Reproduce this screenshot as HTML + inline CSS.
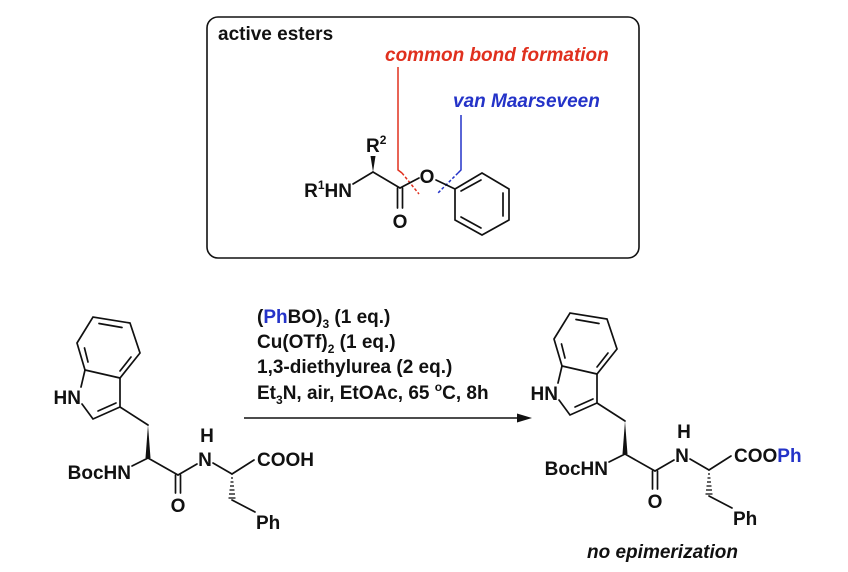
<!DOCTYPE html>
<html><head><meta charset="utf-8"><style>
html,body{margin:0;padding:0;background:#fff;}
svg{display:block;}
text{font-family:"Liberation Sans",Arial,sans-serif;font-weight:bold;font-size:19px;fill:#111;}
.b{stroke:#111;stroke-width:1.7;fill:none;stroke-linecap:round;}
</style></head><body>
<svg width="848" height="572" viewBox="0 0 848 572" xmlns="http://www.w3.org/2000/svg">
<defs>
<g id="mol">
  <polyline class="b" points="77,343 93,317 130,323 140,353 120,378 85,370 77,343"/>
  <line class="b" x1="99" y1="323.5" x2="122" y2="327.5"/>
  <line class="b" x1="131" y1="357" x2="120" y2="371"/>
  <line class="b" x1="84.5" y1="348" x2="88" y2="362"/>
  <polyline class="b" points="85,370 81,387"/>
  <polyline class="b" points="82,404 93,419 120,407 120,378"/>
  <line class="b" x1="98" y1="411" x2="116" y2="403"/>
  <line class="b" x1="120" y1="407" x2="148" y2="425"/>
  <polygon points="148,425 145.5,458 150.5,458" fill="#111"/>
  <line class="b" x1="132" y1="466" x2="148" y2="458"/>
  <line class="b" x1="148" y1="458" x2="178" y2="475"/>
  <line class="b" x1="175.5" y1="475" x2="175.5" y2="493"/>
  <line class="b" x1="180.5" y1="475" x2="180.5" y2="493"/>
  <line class="b" x1="178" y1="475" x2="197" y2="464"/>
  <line class="b" x1="213" y1="463" x2="232" y2="474"/>
  <line class="b" x1="232" y1="474" x2="254" y2="460"/>
  <g stroke="#111" stroke-width="1.3">
    <line x1="231" y1="478" x2="233" y2="478"/><line x1="230.5" y1="482" x2="233.5" y2="482"/>
    <line x1="230" y1="486" x2="234" y2="486"/><line x1="229.5" y1="490" x2="234.5" y2="490"/>
    <line x1="229" y1="494" x2="235" y2="494"/><line x1="228.5" y1="498" x2="235.5" y2="498"/>
  </g>
  <line class="b" x1="232" y1="500" x2="255" y2="512"/>
  <text x="81" y="404" text-anchor="end">HN</text>
  <text x="131" y="479" text-anchor="end">BocHN</text>
  <text x="178" y="512" text-anchor="middle">O</text>
  <text x="207" y="442" text-anchor="middle">H</text>
  <text x="205" y="466" text-anchor="middle">N</text>
  <text x="256" y="529">Ph</text>
</g>
</defs>

<rect x="207" y="17" width="432" height="241" rx="11" ry="11" fill="none" stroke="#111" stroke-width="1.6"/>
<text x="218" y="40">active esters</text>
<text x="385" y="61" style="fill:#e0301e;font-style:italic">common bond formation</text>
<text x="453" y="107" style="fill:#2433c8;font-style:italic">van Maarseveen</text>
<polyline points="398,67 398,170 402,173" fill="none" stroke="#e0301e" stroke-width="1.5"/>
<line x1="402" y1="173" x2="419" y2="194" stroke="#e0301e" stroke-width="1.5" stroke-dasharray="3,2"/>
<polyline points="461,115 461,170 458,173" fill="none" stroke="#2433c8" stroke-width="1.5"/>
<line x1="458" y1="173" x2="437" y2="194" stroke="#2433c8" stroke-width="1.5" stroke-dasharray="3,2"/>
<text x="352" y="197" text-anchor="end">R<tspan font-size="12" dy="-8">1</tspan><tspan dy="8">HN</tspan></text>
<text x="366" y="152">R<tspan font-size="12" dy="-8">2</tspan></text>
<polygon points="373,172 370.5,156 375.5,156" fill="#111"/>
<line class="b" x1="353" y1="184" x2="373" y2="172"/>
<line class="b" x1="373" y1="172" x2="400" y2="188"/>
<line class="b" x1="397.5" y1="188" x2="397.5" y2="208"/>
<line class="b" x1="402.5" y1="188" x2="402.5" y2="208"/>
<text x="400" y="228" text-anchor="middle">O</text>
<line class="b" x1="400" y1="188" x2="419" y2="178"/>
<text x="427" y="183" text-anchor="middle">O</text>
<line class="b" x1="436" y1="180" x2="455" y2="189"/>
<polyline class="b" points="455,189 482,173 509,189 509,220 482,235 455,220 455,189"/>
<line class="b" x1="503" y1="193" x2="503" y2="216"/>
<line class="b" x1="461" y1="191" x2="481" y2="180"/>
<line class="b" x1="481" y1="228" x2="461" y2="217"/>

<use href="#mol"/>
<text x="257" y="466">COOH</text>

<text x="257" y="323">(<tspan style="fill:#2433c8">Ph</tspan>BO)<tspan font-size="12" dy="5">3</tspan><tspan dy="-5"> (1 eq.)</tspan></text>
<text x="257" y="348">Cu(OTf)<tspan font-size="12" dy="5">2</tspan><tspan dy="-5"> (1 eq.)</tspan></text>
<text x="257" y="373">1,3-diethylurea (2 eq.)</text>
<text x="257" y="399">Et<tspan font-size="12" dy="5">3</tspan><tspan dy="-5">N, air, EtOAc, 65 </tspan><tspan font-size="12" dy="-8">o</tspan><tspan dy="8">C, 8h</tspan></text>
<line x1="244" y1="418" x2="518" y2="418" stroke="#111" stroke-width="1.5"/>
<polygon points="517,413.5 532,418 517,422.5" fill="#111"/>

<g transform="translate(477,-4)">
  <use href="#mol"/>
  <text x="257" y="466">COO<tspan style="fill:#2433c8">Ph</tspan></text>
</g>
<text x="587" y="558" style="font-style:italic">no epimerization</text>
</svg>
</body></html>
